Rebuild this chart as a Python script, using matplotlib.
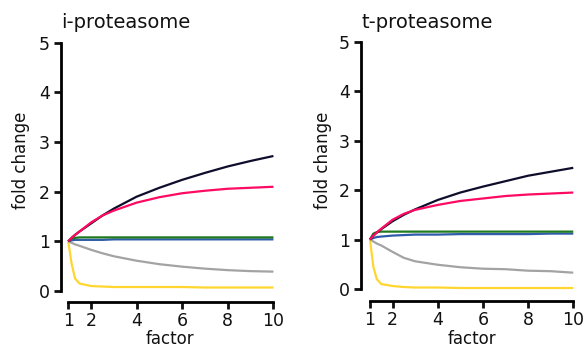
"""Fold change vs factor for i- and t-proteasome."""

import matplotlib.pyplot as plt

factor = [1, 1.15, 1.3, 1.5, 2, 2.5, 3, 4, 5, 6, 7, 8, 9, 10]

# i-proteasome
i_black = [1.0, 1.07, 1.13, 1.2, 1.36, 1.52, 1.66, 1.9, 2.08, 2.24, 2.38, 2.51, 2.62, 2.72]
i_pink = [1.0, 1.07, 1.13, 1.2, 1.38, 1.52, 1.62, 1.78, 1.89, 1.97, 2.02, 2.06, 2.08, 2.1]
i_green = [1.0, 1.05, 1.07, 1.08, 1.08, 1.08, 1.08, 1.08, 1.08, 1.08, 1.08, 1.08, 1.08, 1.08]
i_blue = [1.0, 1.02, 1.03, 1.03, 1.03, 1.03, 1.04, 1.04, 1.04, 1.04, 1.04, 1.04, 1.04, 1.04]
i_gray = [1.0, 0.97, 0.94, 0.91, 0.83, 0.76, 0.7, 0.61, 0.54, 0.49, 0.45, 0.42, 0.4, 0.39]
i_yellow = [1.0, 0.55, 0.25, 0.15, 0.1, 0.09, 0.08, 0.08, 0.08, 0.08, 0.07, 0.07, 0.07, 0.07]

# t-proteasome
t_black = [1.0, 1.08, 1.14, 1.21, 1.37, 1.5, 1.61, 1.8, 1.95, 2.07, 2.18, 2.29, 2.37, 2.45]
t_pink = [1.0, 1.08, 1.14, 1.22, 1.4, 1.52, 1.6, 1.7, 1.78, 1.83, 1.88, 1.91, 1.93, 1.95]
t_green = [1.0, 1.12, 1.15, 1.16, 1.16, 1.16, 1.16, 1.16, 1.16, 1.16, 1.16, 1.16, 1.16, 1.16]
t_blue = [1.0, 1.03, 1.05, 1.06, 1.08, 1.09, 1.1, 1.1, 1.11, 1.11, 1.11, 1.11, 1.12, 1.12]
t_gray = [1.0, 0.96, 0.92, 0.88, 0.75, 0.63, 0.56, 0.49, 0.44, 0.41, 0.4, 0.37, 0.36, 0.33]
t_yellow = [1.0, 0.45, 0.2, 0.1, 0.06, 0.04, 0.03, 0.03, 0.02, 0.02, 0.02, 0.02, 0.02, 0.02]

colors = {
    "black": "#0E0E2C",
    "pink": "#FF0A63",
    "green": "#1F7A1F",
    "blue": "#2F5CA8",
    "gray": "#A3A3A3",
    "yellow": "#FFD630",
}

panels = [
    {
        "title": "i-proteasome",
        "rect": [0.117, 0.1686, 0.352, 0.709],
        "offsets": (5, 8),
        "series": [("gray", i_gray), ("yellow", i_yellow), ("blue", i_blue),
                   ("green", i_green), ("black", i_black), ("pink", i_pink)],
        "title_x": 61, "ylabel_x": 21, "xlabel_x": 170,
    },
    {
        "title": "t-proteasome",
        "rect": [0.6346, 0.1743, 0.3487, 0.7066],
        "offsets": (6.5, 9),
        "series": [("gray", t_gray), ("yellow", t_yellow), ("blue", t_blue),
                   ("green", t_green), ("black", t_black), ("pink", t_pink)],
        "title_x": 361, "ylabel_x": 323, "xlabel_x": 472,
    },
]

W, H = 583, 350
fig = plt.figure(figsize=(W / 100, H / 100), dpi=100)
fig.patch.set_facecolor("white")

for p in panels:
    ax = fig.add_axes(p["rect"])
    for name, vals in p["series"]:
        ax.plot(factor, vals, color=colors[name], linewidth=1.6, clip_on=False,
                solid_capstyle="butt")
    ax.set_xlim(1, 10)
    ax.set_ylim(0, 5)
    ax.set_xticks([1, 2, 4, 6, 8, 10])
    ax.set_yticks([0, 1, 2, 3, 4, 5])
    ax.spines[["top", "right"]].set_visible(False)
    ax.spines["left"].set_position(("outward", p["offsets"][0]))
    ax.spines["bottom"].set_position(("outward", p["offsets"][1]))
    for s in ("left", "bottom"):
        ax.spines[s].set_linewidth(2)
    ax.tick_params(axis="both", direction="out", length=5, width=2, labelsize=12.5,
                   pad=2, colors="#111")
    ax.tick_params(axis="y", pad=3)
    fig.text(p["title_x"] / W, 1 - 22 / H, p["title"], fontsize=14, ha="left",
             va="center", color="#111")
    fig.text(p["ylabel_x"] / W, 1 - 160 / H, "fold change", fontsize=12,
             rotation=90, ha="center", va="center", color="#111")
    fig.text(p["xlabel_x"] / W, 1 - 339 / H, "factor", fontsize=12,
             ha="center", va="center", color="#111")

plt.savefig("out.png", dpi=100, facecolor=fig.get_facecolor())
plt.close()
